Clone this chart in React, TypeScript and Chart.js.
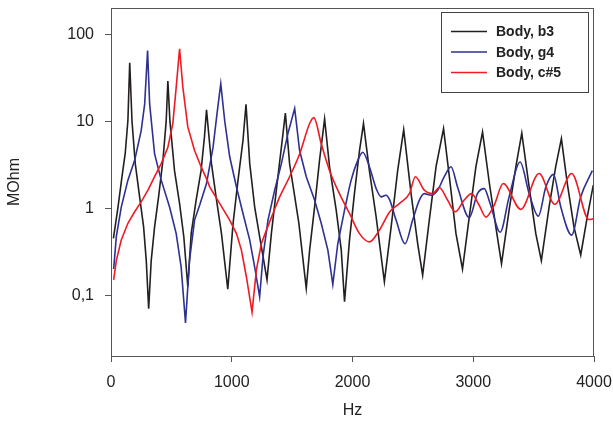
import { useEffect, useRef } from "react";
import { Chart, registerables } from "chart.js";

Chart.register(...registerables);

const xTickValues = [0, 1000, 2000, 3000, 4000];
const xTickLabels = ["0", "1000", "2000", "3000", "4000"];
const yTickValues = [0.1, 1, 10, 100];
const yTickLabels = ["0,1", "1", "10", "100"];
const seriesLabels = ["Body, b3", "Body, g4", "Body, c#5"];
const seriesColors = ["#231f20", "#2e3192", "#ed1c24"];
// above these frequencies the measured curve is smooth (no sharp resonance cusps)
const smoothFrom = [Infinity, 1934, 1341];
const xTitle = "Hz";
const yTitle = "MOhm";

// [frequency Hz, impedance MOhm]
const bodyB3: [number, number][] = [
  [20, 0.45], [58, 1.03], [91, 2.3], [118, 4.3], [140, 10.2], [155, 47], [174, 10], [201, 3.25],
  [237, 1.35], [270, 0.61], [292, 0.25], [312, 0.07], [333, 0.25], [361, 0.61], [394, 1.35],
  [430, 3.55], [457, 10], [471, 29], [488, 10], [526, 2.7], [568, 1.13], [603, 0.47], [636, 0.125],
  [664, 0.51], [705, 1.24], [746, 2.7], [774, 6.6], [791, 13.5], [832, 3.25], [874, 1.24],
  [915, 0.51], [967, 0.117], [1011, 0.67], [1052, 2.1], [1093, 6.0], [1118, 15.6], [1149, 3.25],
  [1190, 1.03], [1231, 0.47], [1292, 0.15], [1328, 0.51], [1369, 1.6], [1411, 5.0], [1444, 12.4],
  [1479, 3.25], [1520, 1.4], [1556, 0.67], [1617, 0.12], [1645, 0.33], [1686, 1.03], [1727, 3.55],
  [1769, 10.6], [1810, 2.98], [1865, 0.95], [1907, 0.33], [1934, 0.084], [1975, 0.43], [2016, 1.47],
  [2058, 4.6], [2091, 9.4], [2140, 2.7], [2196, 0.79], [2264, 0.143], [2320, 0.61], [2374, 2.7],
  [2424, 8.0], [2485, 1.47], [2540, 0.39], [2581, 0.17], [2636, 0.73], [2692, 3.0], [2754, 8.2],
  [2802, 2.3], [2857, 0.51], [2911, 0.2], [2967, 0.79], [3022, 3.0], [3077, 7.5], [3132, 2.0],
  [3187, 0.61], [3234, 0.23], [3297, 0.95], [3353, 3.0], [3402, 7.3], [3463, 1.75], [3518, 0.51],
  [3564, 0.25], [3628, 1.03], [3683, 3.0], [3730, 6.3], [3779, 1.92], [3834, 0.61], [3890, 0.29],
  [3944, 0.79], [3994, 1.84],
];

const bodyG4: [number, number][] = [
  [22, 0.2], [44, 0.47], [85, 1.03], [140, 2.1], [196, 3.55], [250, 7.8], [279, 15.8], [303, 65],
  [320, 15.8], [361, 4.2], [416, 2.1], [485, 1.03], [540, 0.51], [581, 0.21], [617, 0.048],
  [650, 0.25], [692, 0.73], [736, 1.1], [791, 1.92], [845, 5.0], [878, 12.2], [909, 27], [942, 10],
  [983, 3.9], [1039, 1.75], [1093, 0.87], [1149, 0.43], [1190, 0.21], [1231, 0.096], [1259, 0.28],
  [1300, 0.73], [1355, 1.6], [1411, 3.25], [1465, 7.2], [1521, 14], [1562, 4.6], [1617, 2.3],
  [1686, 1.24], [1741, 0.67], [1796, 0.33], [1837, 0.133], [1878, 0.39], [1934, 0.95], [1989, 2.1],
  [2044, 3.55], [2085, 4.4], [2140, 3.0], [2196, 1.68], [2237, 1.35], [2278, 1.41], [2306, 1.26],
  [2361, 0.73], [2435, 0.39], [2498, 0.73], [2554, 1.24], [2595, 1.47], [2650, 1.41], [2705, 1.61],
  [2760, 2.3], [2816, 3.0], [2870, 1.75], [2967, 0.78], [3035, 1.47], [3091, 1.68], [3140, 1.13],
  [3223, 0.53], [3297, 1.35], [3388, 3.4], [3463, 1.47], [3539, 0.81], [3601, 1.75], [3664, 2.45],
  [3725, 1.03], [3815, 0.49], [3890, 1.35], [3986, 2.7],
];

const bodyC5: [number, number][] = [
  [22, 0.15], [44, 0.25], [85, 0.43], [140, 0.67], [196, 0.91], [250, 1.18], [306, 1.61],
  [361, 2.3], [416, 3.25], [471, 5.0], [512, 9.4], [540, 24.6], [568, 68], [595, 24.6], [636, 8.6],
  [692, 4.6], [746, 3.0], [796, 2.1], [818, 1.75], [901, 1.13], [983, 0.73], [1039, 0.51],
  [1080, 0.33], [1121, 0.163], [1168, 0.064], [1204, 0.195], [1245, 0.39], [1287, 0.56],
  [1341, 0.87], [1397, 1.35], [1479, 2.3], [1562, 4.2], [1645, 9.4], [1680, 11], [1741, 5.5],
  [1810, 2.7], [1892, 1.47], [1975, 0.87], [2058, 0.51], [2140, 0.41], [2223, 0.56], [2306, 0.9],
  [2388, 1.13], [2471, 1.47], [2521, 2.3], [2595, 1.61], [2664, 1.47], [2719, 1.73], [2787, 1.24],
  [2851, 0.91], [2925, 1.24], [2986, 1.47], [3049, 1.08], [3105, 0.79], [3173, 1.08], [3248, 1.92],
  [3394, 0.97], [3545, 2.5], [3675, 1.11], [3815, 2.5], [3958, 0.74], [4000, 0.76],
];

const FONT = "'Liberation Sans', Arial, Helvetica, sans-serif";

export default function App() {
  const ref = useRef<HTMLCanvasElement>(null);

  useEffect(() => {
    document.body.style.margin = "0";
    if (!ref.current) return;

    const framePlugin = {
      id: "frameAndLegend",
      afterDraw(chart: any) {
        const { ctx, chartArea } = chart;
        ctx.save();
        ctx.strokeStyle = "#555";
        ctx.lineWidth = 1;
        ctx.strokeRect(chartArea.left + 0.5, chartArea.top + 0.5, chartArea.right - chartArea.left - 1, chartArea.bottom - chartArea.top);
        const w = 147, h = 80;
        const x0 = chartArea.right - 6 - w;
        const y0 = chartArea.top + 4;
        ctx.fillStyle = "#fff";
        ctx.fillRect(x0, y0, w, h);
        ctx.strokeStyle = "#444";
        ctx.strokeRect(x0 + 0.5, y0 + 0.5, w, h);
        ctx.font = `bold 14px ${FONT}`;
        ctx.textBaseline = "middle";
        ctx.textAlign = "left";
        seriesLabels.forEach((label, i) => {
          const y = y0 + 19.5 + i * 20.5;
          ctx.strokeStyle = seriesColors[i];
          ctx.lineWidth = 1.6;
          ctx.beginPath();
          ctx.moveTo(x0 + 10, y);
          ctx.lineTo(x0 + 46, y);
          ctx.stroke();
          ctx.fillStyle = "#222";
          ctx.fillText(label, x0 + 55, y + 1);
        });
        ctx.restore();
      },
    };

    const series = [bodyB3, bodyG4, bodyC5];
    const datasets: any[] = [];
    series.forEach((s, i) => {
      const split = smoothFrom[i];
      const sharp = s.filter(([x]) => x <= split);
      const smooth = s.filter(([x]) => x >= split);
      const base = {
        label: seriesLabels[i],
        borderColor: seriesColors[i],
        backgroundColor: seriesColors[i],
        borderWidth: 1.6,
        pointRadius: 0,
        fill: false,
        order: 3 - i,
      };
      datasets.push({ ...base, data: sharp.map(([x, y]) => ({ x, y })), tension: 0 });
      if (smooth.length > 1) {
        datasets.push({ ...base, data: smooth.map(([x, y]) => ({ x, y })), cubicInterpolationMode: "monotone" });
      }
    });

    const chart = new Chart(ref.current, {
      type: "line",
      data: { datasets },
      options: {
        animation: false,
        responsive: false,
        maintainAspectRatio: false,
        layout: { padding: { left: 0, top: 8, right: 19, bottom: 0 } },
        plugins: { legend: { display: false }, tooltip: { enabled: false } },
        scales: {
          x: {
            type: "linear",
            min: 0,
            max: 4000,
            afterBuildTicks: (s: any) => {
              s.ticks = xTickValues.map((v) => ({ value: v }));
            },
            afterFit: (s: any) => {
              s.height = 69;
              s.paddingLeft = 0;
              s.paddingRight = 0;
            },
            ticks: {
              font: { family: FONT, size: 16 },
              color: "#222",
              padding: 11,
              maxRotation: 0,
              callback: (v: any) => {
                const i = xTickValues.indexOf(Number(v));
                return i >= 0 ? xTickLabels[i] : "";
              },
            },
            grid: { display: true, drawOnChartArea: false, drawTicks: true, tickLength: 6, color: "#555" },
            border: { display: false },
            title: { display: true, text: xTitle, font: { family: FONT, size: 16 }, color: "#222", padding: { top: 0, bottom: 5 } },
          },
          y: {
            type: "logarithmic",
            min: 0.02,
            max: 200,
            afterBuildTicks: (s: any) => {
              s.ticks = yTickValues.map((v) => ({ value: v }));
            },
            afterFit: (s: any) => {
              s.width = 111;
              s.paddingTop = 0;
              s.paddingBottom = 0;
            },
            ticks: {
              font: { family: FONT, size: 16 },
              color: "#222",
              padding: 11,
              callback: (v: any) => {
                const i = yTickValues.indexOf(Number(v));
                return i >= 0 ? yTickLabels[i] : "";
              },
            },
            grid: { display: true, drawOnChartArea: false, drawTicks: true, tickLength: 6, color: "#555" },
            border: { display: false },
            title: { display: true, text: yTitle, font: { family: FONT, size: 16 }, color: "#222", padding: { top: 5, bottom: 0 } },
          },
        },
      },
      plugins: [framePlugin],
    });
    return () => chart.destroy();
  }, []);

  return (
    <div style={{ position: "absolute", left: 0, top: 0, width: 613, height: 425 }}>
      <canvas ref={ref} width={613} height={425} style={{ display: "block", width: 613, height: 425 }} />
    </div>
  );
}
